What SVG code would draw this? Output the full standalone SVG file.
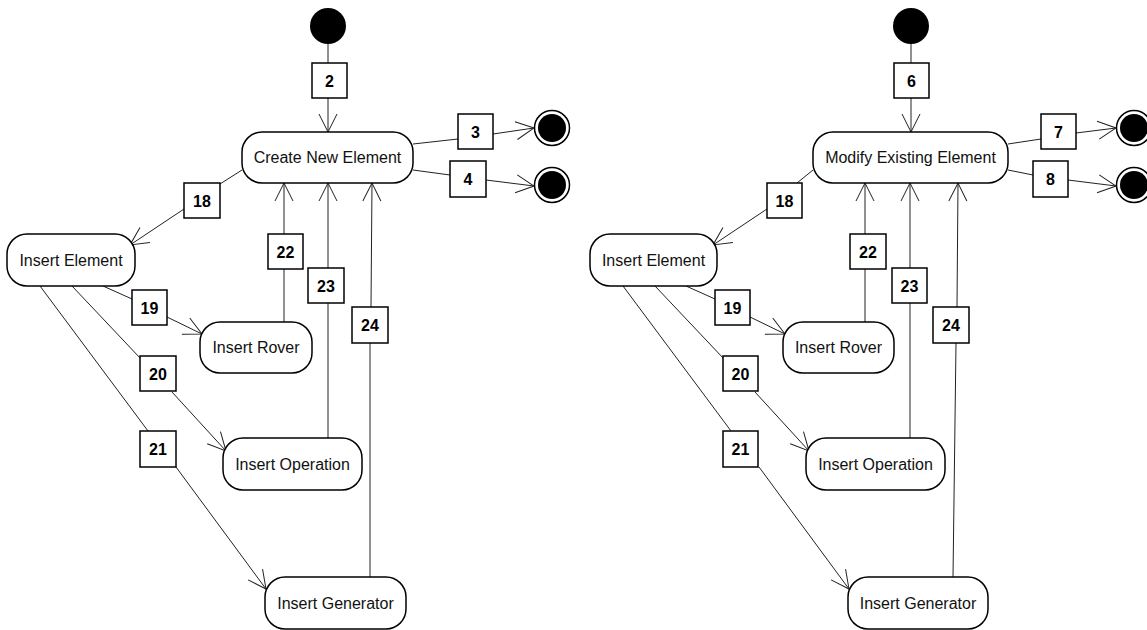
<svg xmlns="http://www.w3.org/2000/svg" width="1147" height="630" viewBox="0 0 1147 630">
<style>
.bg{fill:#fff}
.node rect{fill:#fff;stroke:#000;stroke-width:1.5}
.node text{font-family:"Liberation Sans",Arial,sans-serif;font-size:16px;fill:#111;text-anchor:middle}
.lbl rect{fill:#fff;stroke:#000;stroke-width:1.5}
.lbl text{font-family:"Liberation Sans",Arial,sans-serif;font-size:16px;font-weight:bold;fill:#000;text-anchor:middle}
.start{fill:#000}
.fo{fill:#fff;stroke:#000;stroke-width:1.5}
.fi{fill:#000}
.conn line{stroke:#222;stroke-width:1;fill:none}
.conn line.a{marker-end:url(#arr)}
</style>
<defs>
<marker id="arr" markerUnits="userSpaceOnUse" markerWidth="22" markerHeight="22" viewBox="-20 -11 22 22" refX="0" refY="0" orient="auto">
<path d="M-18,-9 L0,0 L-18,9" fill="none" stroke="#222" stroke-width="1"/>
</marker>
</defs>
<rect class="bg" x="0" y="0" width="1147" height="630"/>

<g id="connectors" class="conn">
<!-- left -->
<line x1="328" y1="44" x2="328" y2="63"/>
<line class="a" x1="328" y1="98" x2="328" y2="132"/>
<line x1="413" y1="144" x2="458" y2="139"/>
<line class="a" x1="493" y1="134" x2="534" y2="128"/>
<line x1="413" y1="170" x2="450" y2="175"/>
<line class="a" x1="486" y1="180" x2="534" y2="186"/>
<line x1="242" y1="170" x2="220" y2="184"/>
<line class="a" x1="184" y1="209" x2="130" y2="245"/>
<line x1="103" y1="286" x2="132" y2="299"/>
<line class="a" x1="167" y1="317" x2="202" y2="334"/>
<line x1="72" y1="286" x2="141" y2="359"/>
<line class="a" x1="172" y1="392" x2="226" y2="451"/>
<line x1="40" y1="286" x2="148" y2="431"/>
<line class="a" x1="176" y1="467" x2="266" y2="589"/>
<line x1="284" y1="322" x2="284" y2="269"/>
<line class="a" x1="284" y1="234" x2="284" y2="183"/>
<line x1="328" y1="438" x2="328" y2="303"/>
<line class="a" x1="328" y1="268" x2="328" y2="183"/>
<line x1="370" y1="577" x2="370" y2="343"/>
<line class="a" x1="371" y1="307" x2="372" y2="183"/>
<!-- right -->
<line x1="911" y1="44" x2="911" y2="63"/>
<line class="a" x1="911" y1="98" x2="911" y2="132"/>
<line x1="1008" y1="144" x2="1041" y2="139"/>
<line class="a" x1="1076" y1="133" x2="1116" y2="128"/>
<line x1="1008" y1="170" x2="1033" y2="175"/>
<line class="a" x1="1068" y1="180" x2="1116" y2="186"/>
<line x1="813" y1="170" x2="797" y2="183"/>
<line class="a" x1="767" y1="209" x2="713" y2="245"/>
<line x1="686" y1="286" x2="715" y2="299"/>
<line class="a" x1="750" y1="317" x2="785" y2="334"/>
<line x1="655" y1="286" x2="724" y2="359"/>
<line class="a" x1="755" y1="392" x2="809" y2="451"/>
<line x1="623" y1="286" x2="731" y2="431"/>
<line class="a" x1="759" y1="467" x2="849" y2="589"/>
<line x1="865" y1="322" x2="865" y2="269"/>
<line class="a" x1="865" y1="234" x2="865" y2="183"/>
<line x1="910" y1="438" x2="910" y2="303"/>
<line class="a" x1="910" y1="268" x2="910" y2="183"/>
<line x1="953" y1="577" x2="956" y2="343"/>
<line class="a" x1="957" y1="307" x2="958" y2="183"/>
</g>

<!-- left diagram -->
<g id="start1"><circle class="start" cx="328" cy="26" r="18"/></g>
<g id="final1"><circle class="fo" cx="552" cy="128" r="17.5"/><circle class="fi" cx="552" cy="128" r="14"/></g>
<g id="final2"><circle class="fo" cx="552" cy="185" r="17.5"/><circle class="fi" cx="552" cy="185" r="14"/></g>
<g id="createNewElement" class="node"><rect x="242" y="132" width="171" height="51" rx="20"/><text x="327.5" y="163">Create New Element</text></g>
<g id="insertElement1" class="node"><rect x="7" y="234" width="128" height="52" rx="20"/><text x="71" y="266">Insert Element</text></g>
<g id="insertRover1" class="node"><rect x="200" y="322" width="112" height="51" rx="20"/><text x="256" y="353">Insert Rover</text></g>
<g id="insertOperation1" class="node"><rect x="223" y="438" width="139" height="52" rx="20"/><text x="292.5" y="470">Insert Operation</text></g>
<g id="insertGenerator1" class="node"><rect x="265" y="577" width="141" height="52" rx="20"/><text x="335.5" y="609">Insert Generator</text></g>
<g id="lbl2" class="lbl"><rect x="312" y="63" width="35" height="35"/><text x="329.5" y="86.5">2</text></g>
<g id="lbl3" class="lbl"><rect x="458" y="114" width="35" height="35"/><text x="475.5" y="137.5">3</text></g>
<g id="lbl4" class="lbl"><rect x="450" y="161" width="36" height="36"/><text x="468" y="185">4</text></g>
<g id="lbl18a" class="lbl"><rect x="184" y="183" width="36" height="35"/><text x="202" y="206.5">18</text></g>
<g id="lbl19a" class="lbl"><rect x="132" y="290" width="35" height="35"/><text x="149.5" y="313.5">19</text></g>
<g id="lbl20a" class="lbl"><rect x="140" y="356" width="36" height="35"/><text x="158" y="379.5">20</text></g>
<g id="lbl21a" class="lbl"><rect x="140" y="431" width="36" height="36"/><text x="158" y="455">21</text></g>
<g id="lbl22a" class="lbl"><rect x="268" y="234" width="35" height="35"/><text x="285.5" y="257.5">22</text></g>
<g id="lbl23a" class="lbl"><rect x="308" y="268" width="36" height="35"/><text x="326" y="291.5">23</text></g>
<g id="lbl24a" class="lbl"><rect x="352" y="307" width="36" height="36"/><text x="370" y="331">24</text></g>

<!-- right diagram -->
<g id="start2"><circle class="start" cx="911" cy="26" r="18"/></g>
<g id="final3"><circle class="fo" cx="1134" cy="128" r="17.5"/><circle class="fi" cx="1134" cy="128" r="14"/></g>
<g id="final4"><circle class="fo" cx="1134" cy="185" r="17.5"/><circle class="fi" cx="1134" cy="185" r="14"/></g>
<g id="modifyExistingElement" class="node"><rect x="813" y="132" width="195" height="51" rx="20"/><text x="910.5" y="163">Modify Existing Element</text></g>
<g id="insertElement2" class="node"><rect x="590" y="234" width="127" height="52" rx="20"/><text x="653.5" y="266">Insert Element</text></g>
<g id="insertRover2" class="node"><rect x="783" y="322" width="111" height="51" rx="20"/><text x="838.5" y="353">Insert Rover</text></g>
<g id="insertOperation2" class="node"><rect x="806" y="438" width="139" height="52" rx="20"/><text x="875.5" y="470">Insert Operation</text></g>
<g id="insertGenerator2" class="node"><rect x="848" y="577" width="140" height="52" rx="20"/><text x="918" y="609">Insert Generator</text></g>
<g id="lbl6" class="lbl"><rect x="894" y="63" width="35" height="35"/><text x="911.5" y="86.5">6</text></g>
<g id="lbl7" class="lbl"><rect x="1041" y="114" width="35" height="35"/><text x="1058.5" y="137.5">7</text></g>
<g id="lbl8" class="lbl"><rect x="1033" y="161" width="35" height="36"/><text x="1050.5" y="185">8</text></g>
<g id="lbl18b" class="lbl"><rect x="767" y="183" width="35" height="35"/><text x="784.5" y="206.5">18</text></g>
<g id="lbl19b" class="lbl"><rect x="715" y="290" width="35" height="35"/><text x="732.5" y="313.5">19</text></g>
<g id="lbl20b" class="lbl"><rect x="723" y="356" width="35" height="35"/><text x="740.5" y="379.5">20</text></g>
<g id="lbl21b" class="lbl"><rect x="723" y="431" width="35" height="36"/><text x="740.5" y="455">21</text></g>
<g id="lbl22b" class="lbl"><rect x="850" y="234" width="36" height="35"/><text x="868" y="257.5">22</text></g>
<g id="lbl23b" class="lbl"><rect x="892" y="268" width="35" height="35"/><text x="909.5" y="291.5">23</text></g>
<g id="lbl24b" class="lbl"><rect x="933" y="307" width="36" height="36"/><text x="951" y="331">24</text></g>
</svg>
